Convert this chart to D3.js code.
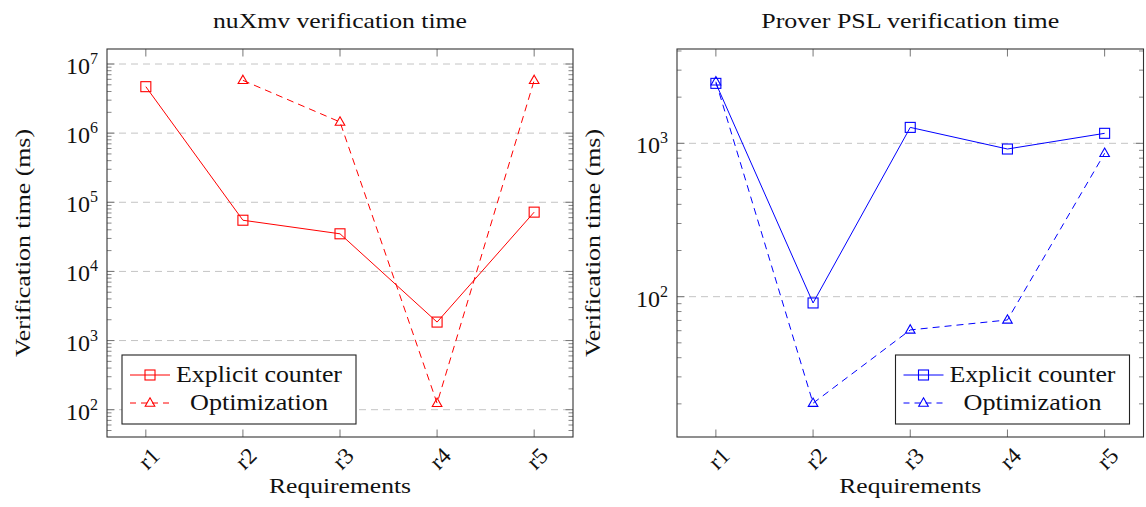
<!DOCTYPE html>
<html>
<head>
<meta charset="utf-8">
<script src="https://cdn.jsdelivr.net/npm/d3@7"></script>
<style>
  html, body { margin: 0; padding: 0; background: #fff; }
  svg { display: block; }
  text { font-family: "Liberation Serif", "Times New Roman", serif; fill: #111; }
</style>
</head>
<body>
<svg id="chart" width="1146" height="507"></svg>
<script>
// ---------------- data ----------------
const categories = ["r1", "r2", "r3", "r4", "r5"];
const seriesNames = ["Explicit counter", "Optimization"];

const nuxmvExplicit = [4.7e6, 5.5e4, 3.5e4, 1.85e3, 7.2e4];
const nuxmvOptimization = [null, 5.8e6, 1.45e6, 124, 5.8e6];

const proverExplicit = [2460, 91, 1270, 918, 1162];
const proverOptimization = [2520, 20.2, 60.7, 70.5, 861];

const nuxmvTickExponents = [2, 3, 4, 5, 6, 7];
const proverTickExponents = [2, 3];

const titles = ["nuXmv verification time", "Prover PSL verification time"];
const xAxisLabel = "Requirements";
const yAxisLabel = "Verification time (ms)";

// ---------------- layout ----------------
const svg = d3.select("#chart");

const panels = [
  {
    title: titles[0], titleLen: 254, series: [nuxmvExplicit, nuxmvOptimization],
    exps: nuxmvTickExponents, color: "#ff0000",
    x0: 107, x1: 573, y0: 49, y1: 437,
    yDomain: [Math.pow(10, 1.605), Math.pow(10, 7.217)],
    legendLeft: true, yLabelX: 30
  },
  {
    title: titles[1], titleLen: 298, series: [proverExplicit, proverOptimization],
    exps: proverTickExponents, color: "#0000ff",
    x0: 677, x1: 1143.5, y0: 49, y1: 437,
    yDomain: [Math.pow(10, 1.085), Math.pow(10, 3.615)],
    legendLeft: false, yLabelX: 600
  }
];
const legendTextLens = [166, 138];

function squareMarker(g, cx, cy, color) {
  g.append("rect").attr("x", cx - 5).attr("y", cy - 5).attr("width", 10).attr("height", 10)
    .attr("fill", "none").attr("stroke", color).attr("stroke-width", 1.1);
}
function triangleMarker(g, cx, cy, color) {
  g.append("path")
    .attr("d", `M${cx},${cy - 5.2} L${cx + 4.8},${cy + 3.2} L${cx - 4.8},${cy + 3.2} Z`)
    .attr("fill", "none").attr("stroke", color).attr("stroke-width", 1.1);
}

panels.forEach(p => {
  const g = svg.append("g");
  const x = d3.scalePoint().domain(categories).range([p.x0, p.x1]).padding(0.4);
  const y = d3.scaleLog().domain(p.yDomain).range([p.y1, p.y0]);

  // grid
  const majors = p.exps.map(e => Math.pow(10, e));
  g.selectAll(".grid").data(majors).enter().append("line")
    .attr("x1", p.x0).attr("x2", p.x1)
    .attr("y1", d => y(d)).attr("y2", d => y(d))
    .attr("stroke", "#c4c4c4").attr("stroke-width", 1).attr("stroke-dasharray", "7,5");

  // minor ticks
  const minors = [];
  const lo = Math.floor(Math.log10(p.yDomain[0])), hi = Math.ceil(Math.log10(p.yDomain[1]));
  for (let e = lo; e <= hi; e++) {
    for (let m = 2; m <= 9; m++) {
      const v = m * Math.pow(10, e);
      if (v >= p.yDomain[0] && v <= p.yDomain[1]) minors.push(v);
    }
  }
  const tickColor = "#777";
  minors.forEach(v => {
    g.append("line").attr("x1", p.x0).attr("x2", p.x0 + 4.5).attr("y1", y(v)).attr("y2", y(v))
      .attr("stroke", tickColor).attr("stroke-width", 0.9);
    g.append("line").attr("x1", p.x1).attr("x2", p.x1 - 4.5).attr("y1", y(v)).attr("y2", y(v))
      .attr("stroke", tickColor).attr("stroke-width", 0.9);
  });
  majors.forEach(v => {
    g.append("line").attr("x1", p.x0).attr("x2", p.x0 + 7.5).attr("y1", y(v)).attr("y2", y(v))
      .attr("stroke", tickColor).attr("stroke-width", 1);
    g.append("line").attr("x1", p.x1).attr("x2", p.x1 - 7.5).attr("y1", y(v)).attr("y2", y(v))
      .attr("stroke", tickColor).attr("stroke-width", 1);
  });
  categories.forEach(c => {
    g.append("line").attr("x1", x(c)).attr("x2", x(c)).attr("y1", p.y1).attr("y2", p.y1 - 7.5)
      .attr("stroke", tickColor).attr("stroke-width", 1);
    g.append("line").attr("x1", x(c)).attr("x2", x(c)).attr("y1", p.y0).attr("y2", p.y0 + 7.5)
      .attr("stroke", tickColor).attr("stroke-width", 1);
  });

  // y tick labels
  p.exps.forEach(e => {
    const t = g.append("text").attr("x", p.x0 - 9).attr("y", y(Math.pow(10, e)) + 10)
      .attr("text-anchor", "end").attr("font-size", 24);
    t.append("tspan").text("10");
    t.append("tspan").attr("dy", -10).attr("font-size", 16).text(String(e));
  });

  // x tick labels
  categories.forEach(c => {
    g.append("text")
      .attr("transform", `translate(${x(c) + 3},${p.y1 + 8}) rotate(-45)`)
      .attr("text-anchor", "end").attr("dy", "0.75em")
      .attr("font-size", 23).text(c);
  });

  // frame
  g.append("rect").attr("x", p.x0).attr("y", p.y0).attr("width", p.x1 - p.x0).attr("height", p.y1 - p.y0)
    .attr("fill", "none").attr("stroke", "#333").attr("stroke-width", 1.1);

  // title and axis labels
  g.append("text").attr("x", (p.x0 + p.x1) / 2).attr("y", 28).attr("text-anchor", "middle")
    .attr("font-size", 21).attr("textLength", p.titleLen).attr("lengthAdjust", "spacingAndGlyphs")
    .text(p.title);
  g.append("text").attr("x", (p.x0 + p.x1) / 2).attr("y", 493).attr("text-anchor", "middle")
    .attr("font-size", 22).attr("textLength", 142).attr("lengthAdjust", "spacingAndGlyphs")
    .text(xAxisLabel);
  g.append("text").attr("transform", `translate(${p.yLabelX},${(p.y0 + p.y1) / 2}) rotate(-90)`)
    .attr("text-anchor", "middle").attr("font-size", 22)
    .attr("textLength", 228).attr("lengthAdjust", "spacingAndGlyphs").text(yAxisLabel);

  // lines
  const line = d3.line()
    .defined(d => d.v != null)
    .x(d => x(d.c)).y(d => y(d.v));
  p.series.forEach((vals, i) => {
    const data = categories.map((c, k) => ({ c, v: vals[k] }));
    g.append("path").datum(data).attr("d", line)
      .attr("fill", "none").attr("stroke", p.color).attr("stroke-width", 1)
      .attr("stroke-dasharray", i === 1 ? "7,5" : null);
    data.filter(d => d.v != null).forEach(d => {
      if (i === 0) squareMarker(g, x(d.c), y(d.v), p.color);
      else triangleMarker(g, x(d.c), y(d.v), p.color);
    });
  });

  // legend
  const lw = 234, lh = 69;
  const lx = p.legendLeft ? p.x0 + 15 : p.x1 - 14 - lw;
  const ly = 355;
  const lg = g.append("g");
  lg.append("rect").attr("x", lx).attr("y", ly).attr("width", lw).attr("height", lh)
    .attr("fill", "#fff").attr("stroke", "#222").attr("stroke-width", 1.1);
  seriesNames.forEach((name, i) => {
    const ry = ly + 20 + i * 28;
    lg.append("line").attr("x1", lx + 8).attr("x2", lx + 48).attr("y1", ry).attr("y2", ry)
      .attr("stroke", p.color).attr("stroke-width", 1)
      .attr("stroke-dasharray", i === 1 ? "6,5" : null);
    if (i === 0) squareMarker(lg, lx + 28, ry, p.color);
    else triangleMarker(lg, lx + 28, ry, p.color);
    lg.append("text").attr("x", lx + 137).attr("y", ry + 7).attr("text-anchor", "middle")
      .attr("font-size", 23).attr("textLength", legendTextLens[i]).attr("lengthAdjust", "spacingAndGlyphs")
      .text(name);
  });
});
</script>
</body>
</html>
